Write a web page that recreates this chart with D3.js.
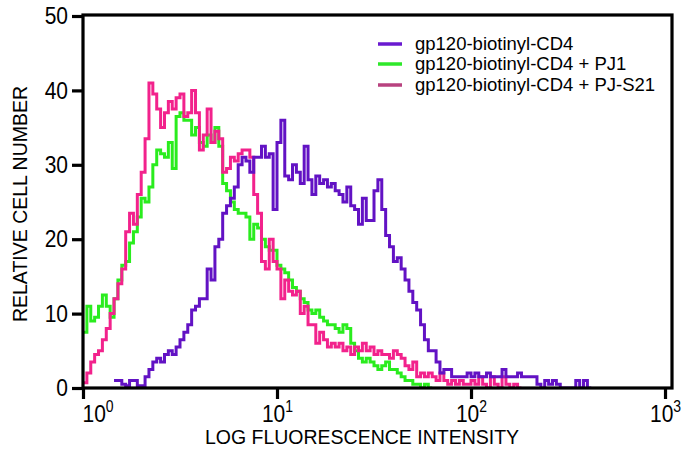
<!DOCTYPE html>
<html><head><meta charset="utf-8">
<script src="https://cdn.jsdelivr.net/npm/d3@7"></script>
<style>
body{margin:0;background:#fff;}
svg{display:block;font-family:"Liberation Sans",Arial,Helvetica,sans-serif;}
</style>
</head><body>
<svg id="chart" width="685" height="454"></svg>
<script>
// ---- data ----
const seriesNames = ["gp120-biotinyl-CD4", "gp120-biotinyl-CD4 + PJ1", "gp120-biotinyl-CD4 + PJ-S21"];
const channelWidth = 0.02;           // log10 decades per histogram channel
const cd4StartChannel = 8;
const pj1StartChannel = 0;
const pjs21StartChannel = 0;
const cd4Counts = [1,1,0.5,0.3,1,1,0.3,0.3,1.5,2.5,3.5,4,3.5,4.5,5,4.5,5.5,6.5,7.5,8.5,10.5,11,12,12,16,14.5,19,20,23.5,24.5,25.5,27,30,31,30.5,29,31,31,32.5,31,31.5,24,33,36,28.5,28,30,29,27.5,32.5,28,26,28.5,27.5,28,27,27.5,26.5,26,25,27,24.5,24,22,25.5,22.5,22.5,26.5,28,24,20.5,19,17,17.5,16,14.5,13,11.5,10.5,8.5,6.5,5,5,3.5,2,2.5,2.5,1.5,1.5,1.5,1.5,2,1.5,2,1.5,1.5,2,1.5,1.5,1.5,2.5,1.5,1.5,1.5,2,1.5,1.5,1.5,1.5,0.5,0,1,0.5,1,0.5,0,0,0,0,1,0,1,0];
const pj1Counts = [7.5,11,9,9.5,11,12.5,11,9.5,12,14.5,16.5,17,19.5,21,23,25.5,25,27,30,32,31.5,31,33,29.5,36.5,37,36,36,34,35,33,32.5,34,33,35,32.5,27.5,26.5,25,24,23.5,23.5,23,20,22,21.5,20,19,18.5,18.5,16.5,16,15.5,14.5,13.5,13,12,11.5,10.5,10,10.5,9.5,9,8.5,8.5,8,7.5,8.5,8,6,5,4,3.5,4,3.5,3,2.5,3,3.5,2.5,2.5,2,1.5,1,1,0.5,0.5,0,0.5,0];
const pjs21Counts = [0.7,2,3.5,4.5,5,6.5,8,10,12,14,16,21,23.5,22,26,29,33.5,41,39.5,37.5,35,37,38.5,37.5,39,39.5,36.5,37,40,37,32,34,37.5,33,34.5,33.5,29,29.5,31,30.5,31.5,32,32,31,26,23.5,17,16,20,17,16,12,14.5,13,12.5,13,10,11,8.5,8.5,6,7.5,6.5,5.5,6,5.5,6,5,5.5,4.5,5.5,5,6,5,5.5,4.5,5,4.5,4.5,4,5,4.5,4,3,2.5,3.5,1.5,2,1.5,2,1.5,1,2,1,0.5,1,0.5,1,0.5,0.5,1,0.5,1.5,0.5,0,1.5,0.5,0,1.5,0.5,0,0.5,0];
const xTickValues = [1, 10, 100, 1000];
const xTickExponents = ["0", "1", "2", "3"];
const yTickValues = [0, 10, 20, 30, 40, 50];
const xTitle = "LOG FLUORESCENCE INTENSITY";
const yTitle = "RELATIVE CELL NUMBER";

// ---- layout ----
const lineColors = ["#6212c4", "#2aec1e", "#f2228c"];
const legendColors = ["#6a1ad0", "#2ee82a", "#b8427f"];
const plot = {left: 83, right: 672, top: 15, bottom: 388};
const labelStretch = 1.15;

const svg = d3.select("#chart");
const x = d3.scaleLog().domain([1, Math.pow(10, 3.036)]).range([plot.left, plot.right]);
const y = d3.scaleLinear().domain([0, 50]).range([plot.bottom, 16]);

function toSteps(counts, start) {
  const pts = counts.map((c, i) => ({x: Math.pow(10, (start + i) * channelWidth), y: c}));
  pts.push({x: Math.pow(10, (start + counts.length) * channelWidth), y: counts[counts.length - 1]});
  return pts;
}
const series = [
  {name: seriesNames[1], color: lineColors[1], pts: toSteps(pj1Counts, pj1StartChannel)},
  {name: seriesNames[2], color: lineColors[2], pts: toSteps(pjs21Counts, pjs21StartChannel)},
  {name: seriesNames[0], color: lineColors[0], pts: toSteps(cd4Counts, cd4StartChannel)}
];
const line = d3.line().x(d => x(d.x)).y(d => y(d.y)).curve(d3.curveStepAfter);

svg.append("defs").append("clipPath").attr("id", "clip")
  .append("rect").attr("x", plot.left).attr("y", plot.top).attr("width", plot.right - plot.left).attr("height", plot.bottom - plot.top);

const g = svg.append("g").attr("clip-path", "url(#clip)");
series.forEach(s => {
  g.append("path").datum(s.pts).attr("d", line)
    .attr("fill", "none").attr("stroke", s.color).attr("stroke-width", 3)
    .attr("stroke-linejoin", "miter");
});

// frame
svg.append("rect").attr("x", plot.left).attr("y", plot.top)
  .attr("width", plot.right - plot.left).attr("height", plot.bottom - plot.top)
  .attr("fill", "none").attr("stroke", "#000").attr("stroke-width", 3.2);

// y axis
const yAxis = d3.axisLeft(y).tickValues(yTickValues).tickSize(11).tickPadding(4);
const ya = svg.append("g").attr("transform", `translate(${plot.left},0)`).call(yAxis);
ya.select(".domain").remove();
ya.selectAll(".tick line").attr("stroke", "#000").attr("stroke-width", 3.2);
ya.selectAll(".tick text").attr("font-size", 21).attr("fill", "#000")
  .attr("font-family", "Liberation Sans, Arial, sans-serif")
  .attr("transform", `scale(1,${labelStretch})`);

// x axis
const xAxis = d3.axisBottom(x).tickValues(xTickValues).tickSize(11).tickFormat(() => "");
const xa = svg.append("g").attr("transform", `translate(0,${plot.bottom})`).call(xAxis);
xa.select(".domain").remove();
xa.selectAll(".tick line").attr("stroke", "#000").attr("stroke-width", 3.2);
xa.selectAll(".tick").each(function(d, i) {
  const t = d3.select(this).append("text")
    .attr("y", 34 / labelStretch).attr("fill", "#000").attr("font-size", 21)
    .attr("text-anchor", i === 0 ? "start" : "middle")
    .attr("x", i === 0 ? -1 : 0)
    .attr("transform", `scale(1,${labelStretch})`)
    .attr("font-family", "Liberation Sans, Arial, sans-serif");
  t.append("tspan").text("10");
  t.append("tspan").text(xTickExponents[i]).attr("font-size", 14).attr("dy", -9);
});

// titles
svg.append("text").attr("x", 362).attr("y", 444).attr("text-anchor", "middle")
  .attr("font-size", 19.5).attr("fill", "#000").text(xTitle);
svg.append("text").attr("transform", "translate(27,204) rotate(-90)").attr("text-anchor", "middle")
  .attr("font-size", 19.5).attr("fill", "#000").text(yTitle);

// legend
const legend = svg.append("g");
const legendY = [44, 64, 85];
seriesNames.forEach((n, i) => {
  legend.append("line").attr("x1", 378).attr("x2", 402).attr("y1", legendY[i]).attr("y2", legendY[i])
    .attr("stroke", legendColors[i]).attr("stroke-width", 3.5);
  legend.append("text").attr("x", 415).attr("y", legendY[i]).attr("dy", "0.35em")
    .attr("font-size", 18.5).attr("fill", "#000").text(n);
});
</script>
</body></html>
